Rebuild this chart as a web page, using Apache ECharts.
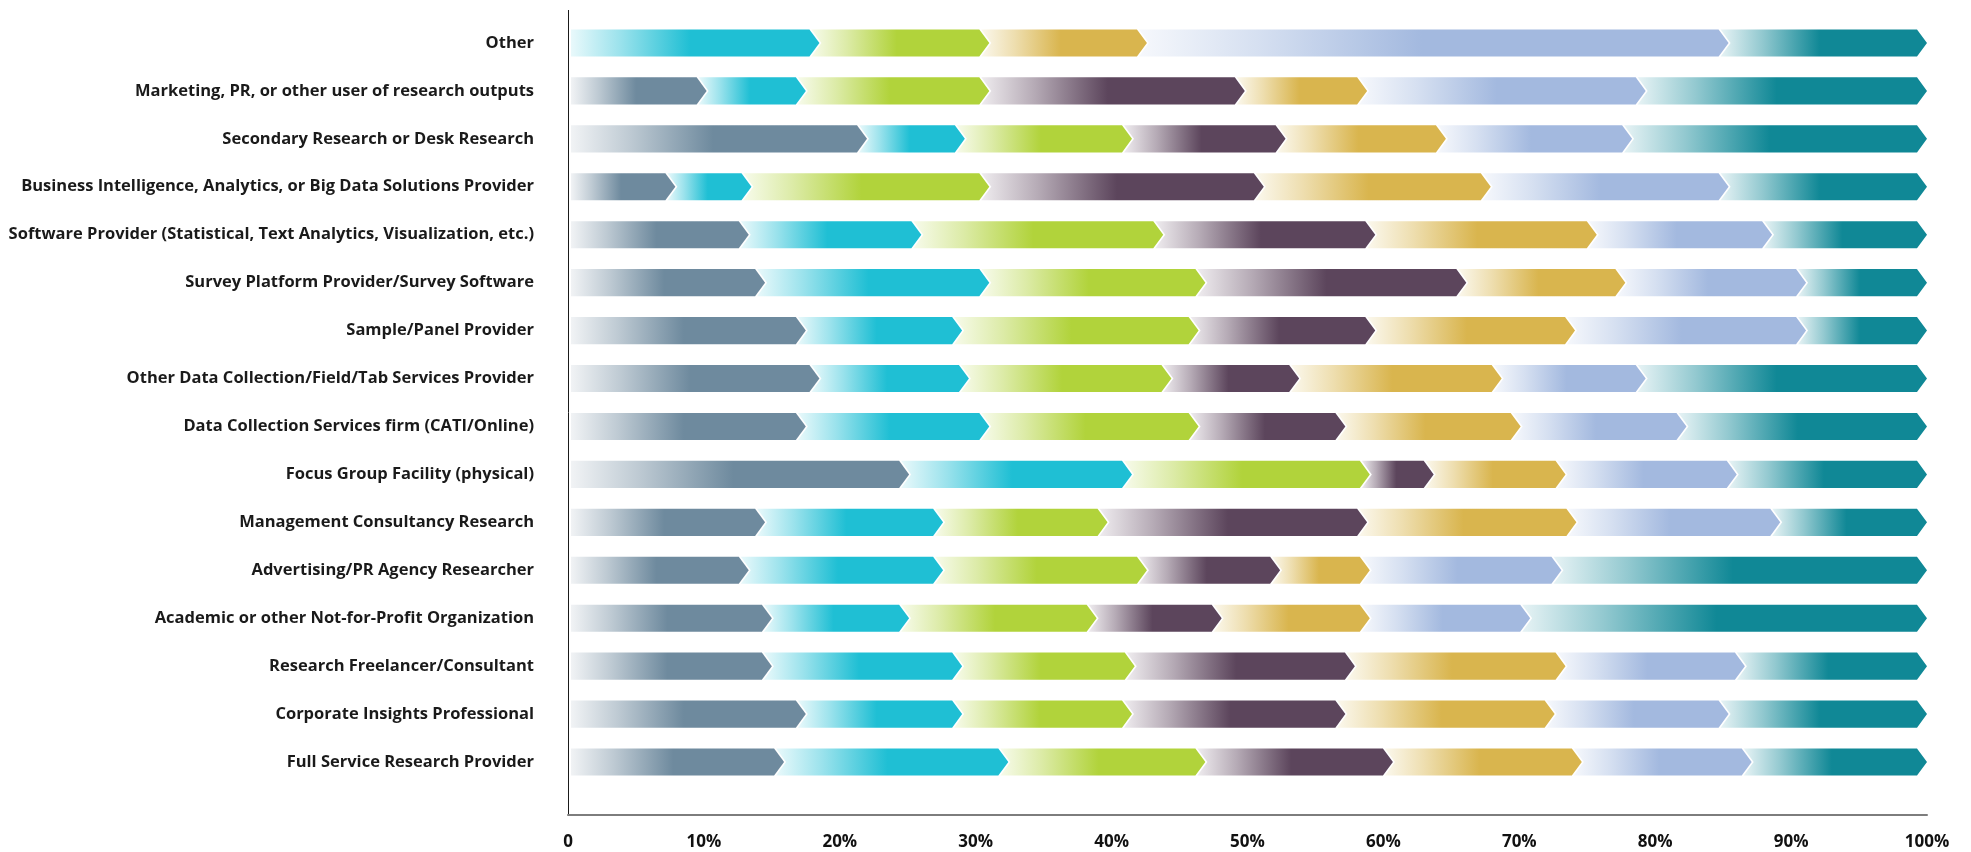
<!DOCTYPE html>
<html>
<head>
<meta charset="utf-8">
<script src="https://cdn.jsdelivr.net/npm/echarts@6/dist/echarts.min.js"></script>
<style>
  html, body { margin: 0; padding: 0; background: #ffffff; }
  #chart { width: 1971px; height: 852px; }
</style>
</head>
<body>
<div id="chart"></div>
<script>
// Organisation types, listed top to bottom
const categories = [
  'Other',
  'Marketing, PR, or other user of research outputs',
  'Secondary Research or Desk Research',
  'Business Intelligence, Analytics, or Big Data Solutions Provider',
  'Software Provider (Statistical, Text Analytics, Visualization, etc.)',
  'Survey Platform Provider/Survey Software',
  'Sample/Panel Provider',
  'Other Data Collection/Field/Tab Services Provider',
  'Data Collection Services firm (CATI/Online)',
  'Focus Group Facility (physical)',
  'Management Consultancy Research',
  'Advertising/PR Agency Researcher',
  'Academic or other Not-for-Profit Organization',
  'Research Freelancer/Consultant',
  'Corporate Insights Professional',
  'Full Service Research Provider'
];

// Share (%) of each segment, one value per organisation type
const segment1 = [0, 10.2, 22.0, 7.9, 13.3, 14.5, 17.5, 18.5, 17.5, 25.1, 14.5, 13.3, 15.0, 15.0, 17.5, 15.9];
const segment2 = [18.5, 7.3, 7.2, 5.6, 12.7, 16.5, 11.5, 11.0, 13.5, 16.4, 13.1, 14.3, 10.1, 14.0, 11.5, 16.5];
const segment3 = [12.5, 13.5, 12.3, 17.5, 17.8, 15.9, 17.4, 14.9, 15.4, 17.5, 12.1, 15.0, 13.8, 12.7, 12.5, 14.5];
const segment4 = [0, 18.8, 11.3, 20.2, 15.6, 19.2, 13.0, 9.4, 10.8, 4.7, 19.1, 9.8, 9.2, 16.2, 15.7, 13.8];
const segment5 = [11.6, 9.0, 11.8, 16.7, 16.3, 11.7, 14.7, 14.9, 12.9, 9.7, 15.4, 6.6, 10.9, 15.5, 15.4, 13.9];
const segment6 = [42.8, 20.5, 13.7, 17.5, 12.9, 13.3, 17.0, 10.6, 12.2, 12.6, 15.0, 14.1, 11.8, 13.2, 12.8, 12.5];
const segment7 = [14.6, 20.7, 21.7, 14.6, 11.4, 8.9, 8.9, 20.7, 17.7, 14.0, 10.8, 26.9, 29.2, 13.4, 14.6, 12.9];

const seriesNames = ['Segment 1', 'Segment 2', 'Segment 3', 'Segment 4', 'Segment 5', 'Segment 6', 'Segment 7'];
const xTickLabels = ['0', '10%', '20%', '30%', '40%', '50%', '60%', '70%', '80%', '90%', '100%'];

// Styling
const colors = ['#6e8a9e', '#1fbfd4', '#b1d33b', '#5c455c', '#d9b54e', '#a3b9df', '#108896'];
const GRID = { left: 568, right: 44, top: 19, bottom: 66 };
const X_AXIS_OFFSET = 29;
const BAR_RATIO = 0.565;
const TIP = 10;
const GAP = 2;
const LEAD_INSET = 3;
const LABEL_FONT = '"Open Sans", Lato, sans-serif';

function tint(hex, amount) {
  const n = parseInt(hex.slice(1), 16);
  const r = (n >> 16) & 255, g = (n >> 8) & 255, b = n & 255;
  const m = c => Math.round(c + (255 - c) * amount);
  return 'rgb(' + m(r) + ',' + m(g) + ',' + m(b) + ')';
}

function gradientFor(color) {
  return new echarts.graphic.LinearGradient(0, 0, 1, 0, [
    { offset: 0, color: tint(color, 0.9) },
    { offset: 0.2, color: tint(color, 0.55) },
    { offset: 0.48, color: color },
    { offset: 1, color: color }
  ]);
}

// Build [start, end, categoryIndex, isLeading] items by stacking the segments
const allSegments = [segment1, segment2, segment3, segment4, segment5, segment6, segment7];
const stackedData = allSegments.map(() => []);
categories.forEach((cat, ci) => {
  let acc = 0;
  let leading = true;
  allSegments.forEach((arr, si) => {
    const v = arr[ci];
    if (v > 0) {
      stackedData[si].push([acc, acc + v, ci, leading ? 1 : 0]);
      leading = false;
    }
    acc += v;
  });
});

function makeRenderer(color) {
  const fill = gradientFor(color);
  return function (params, api) {
    const start = api.value(0);
    const end = api.value(1);
    const cat = api.value(2);
    const lead = api.value(3);
    const p0 = api.coord([start, cat]);
    const p1 = api.coord([end, cat]);
    const h = api.size([0, 1])[1] * BAR_RATIO;
    const mid = p0[1];
    const top = mid - h / 2;
    const bot = mid + h / 2;
    const x1 = p1[0];
    let pts;
    if (lead) {
      const x0 = p0[0] + LEAD_INSET;
      pts = [[x0, top], [x1 - TIP, top], [x1, mid], [x1 - TIP, bot], [x0, bot]];
    } else {
      const x0 = p0[0] + GAP;
      pts = [[x0 - TIP, top], [x1 - TIP, top], [x1, mid], [x1 - TIP, bot], [x0 - TIP, bot], [x0, mid]];
    }
    return {
      type: 'polygon',
      shape: { points: pts },
      style: { fill: fill }
    };
  };
}

const chart = echarts.init(document.getElementById('chart'), null, { renderer: 'canvas' });

const option = {
  backgroundColor: '#ffffff',
  animation: false,
  grid: {
    left: GRID.left, right: GRID.right, top: GRID.top, bottom: GRID.bottom,
    containLabel: false, outerBoundsMode: 'none'
  },
  xAxis: {
    type: 'value',
    min: 0, max: 100, interval: 10,
    offset: X_AXIS_OFFSET,
    axisLine: { show: true, lineStyle: { color: '#7d7d7d', width: 2 } },
    axisTick: { show: false },
    splitLine: { show: false },
    axisLabel: {
      margin: 19,
      color: '#111111',
      fontFamily: LABEL_FONT,
      fontWeight: 700,
      fontSize: 17,
      formatter: v => xTickLabels[Math.round(v / 10)]
    }
  },
  yAxis: {
    type: 'category',
    data: categories,
    inverse: true,
    axisLine: { show: false },
    axisTick: { show: false },
    splitLine: { show: false },
    axisLabel: {
      margin: 34,
      color: '#1a1a1a',
      fontFamily: LABEL_FONT,
      fontWeight: 700,
      fontSize: 16.5
    }
  },
  graphic: [{
    type: 'line',
    silent: true,
    shape: {
      x1: GRID.left + 0.5, y1: 10,
      x2: GRID.left + 0.5, y2: 852 - GRID.bottom + X_AXIS_OFFSET
    },
    style: { stroke: '#1a1a1a', lineWidth: 1 }
  }],
  series: seriesNames.map((name, si) => ({
    name: name,
    type: 'custom',
    renderItem: makeRenderer(colors[si]),
    encode: { x: [0, 1], y: 2 },
    data: stackedData[si]
  }))
};

chart.setOption(option);
</script>
</body>
</html>
